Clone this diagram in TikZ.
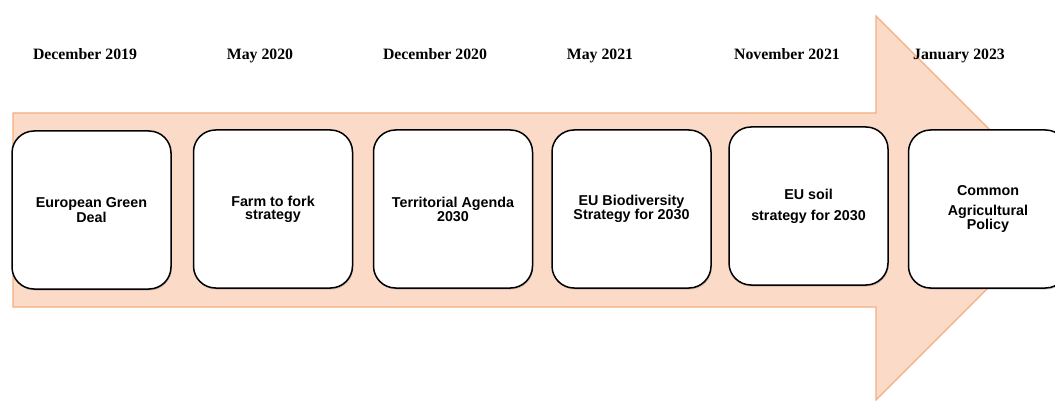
\documentclass[tikz,border=0pt]{standalone}
\usepackage{fontspec}
\setmainfont{Liberation Serif}
\newfontfamily\arialfont{Liberation Sans}
\usetikzlibrary{shadows}
\definecolor{arrowfill}{RGB}{251,218,200}
\definecolor{arrowline}{RGB}{244,174,126}
\tikzset{
  eventbox/.style={draw=black, line width=1.5pt, fill=white, rounded corners=22pt,
    minimum width=159pt, minimum height=158pt, inner sep=2pt, align=center,
    font=\arialfont\bfseries\fontsize{14.3}{12.8}\selectfont,
    drop shadow={opacity=0.35, shadow xshift=0.8pt, shadow yshift=-1.5pt}},
  datelabel/.style={font=\bfseries\fontsize{15.8}{17}\selectfont, inner sep=0pt, anchor=base},
  timearrow/.style={fill=arrowfill, draw=arrowline, line width=1.3pt, line join=miter}
}
\begin{document}
\begin{tikzpicture}[x=1pt,y=-1pt]
\useasboundingbox (0,0) rectangle (1055,401);
\clip (0,0) rectangle (1055,401);
\fill[white] (0,0) rectangle (1055,401);
% big arrow
\draw[timearrow] (13,113) -- (876,113) -- (876,16) -- (1068,208) -- (876,400) -- (876,307) -- (13,307) -- cycle;
% dates
\node[datelabel] (d1) at (85,60) {December 2019};
\node[datelabel] (d2) at (260,60) {May 2020};
\node[datelabel] (d3) at (435,60) {December 2020};
\node[datelabel] (d4) at (600,60) {May 2021};
\node[datelabel] (d5) at (787,60) {November 2021};
\node[datelabel] (d6) at (959,60) {January 2023};
% boxes
\node[eventbox] (b1) at (91.5,210) {European Green\\Deal};
\node[eventbox] (b2) at (273,209) {Farm to fork\\strategy};
\node[eventbox] (b3) at (453,209) {Territorial Agenda\\2030};
\node[eventbox] (b4) at (631.5,209) {EU Biodiversity\\Strategy for 2030};
\node[eventbox] (b5) at (808.5,206) {EU soil\\[8pt]strategy for 2030};
\node[eventbox] (b6) at (988,209) {Common\\[7pt]Agricultural\\Policy};
\end{tikzpicture}
\end{document}
